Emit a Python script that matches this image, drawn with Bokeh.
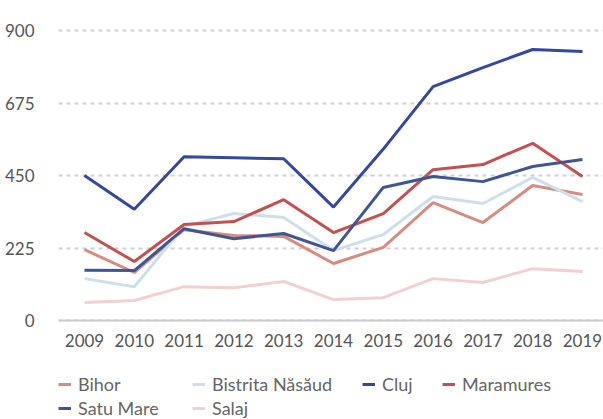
from bokeh.plotting import figure
from bokeh.models import FixedTicker, Span, Legend, LegendItem, Range1d
from bokeh.embed import file_html
from bokeh.resources import INLINE

years = [2009, 2010, 2011, 2012, 2013, 2014, 2015, 2016, 2017, 2018, 2019]
bihor = [220, 149, 282, 264, 261, 177, 227, 366, 304, 419, 391]
bistrita = [130, 105, 292, 332, 320, 217, 267, 385, 363, 444, 369]
cluj = [450, 345, 508, 505, 502, 352, 532, 726, 785, 841, 835]
maramures = [273, 183, 298, 307, 375, 273, 332, 468, 484, 550, 447]
satu_mare = [156, 155, 285, 254, 270, 217, 413, 447, 431, 478, 500]
salaj = [56, 62, 105, 102, 121, 65, 71, 130, 118, 161, 152]

names = ["Bihor", "Bistrita Năsăud", "Cluj", "Maramures", "Satu Mare", "Salaj"]
series = [bihor, bistrita, cluj, maramures, satu_mare, salaj]
colors = ["#d88c80", "#cde0ea", "#3548a0", "#c4514f", "#3f5694", "#f4cfcf"]
y_ticks = [0, 225, 450, 675, 900]

FONT = "Lato"

p = figure(width=603, height=419, output_backend="svg", toolbar_location=None,
           x_range=Range1d(2008.478, 2019.422), y_range=Range1d(-307.2, 980.7),
           min_border_left=58, min_border_right=0, min_border_top=4,
           min_border_bottom=0)
p.outline_line_color = None

p.xaxis.ticker = FixedTicker(ticks=years)
p.yaxis.ticker = FixedTicker(ticks=y_ticks)
for ax in (p.xaxis[0], p.yaxis[0]):
    ax.axis_line_color = None
    ax.major_tick_line_color = None
    ax.minor_tick_line_color = None
    ax.major_label_text_font = FONT
    ax.major_label_text_font_size = "17px"
    ax.major_label_text_color = "#555555"
p.yaxis.major_label_standoff = 18
p.xaxis.major_label_standoff = -92

p.xgrid.grid_line_color = None
p.ygrid.grid_line_color = "#d0d0d0"
p.ygrid.grid_line_width = 2
p.ygrid.grid_line_dash = "4 4"

p.add_layout(Span(location=0, dimension="width", line_color="#cccccc", line_width=2))

renderers = {}
for name, vals, col in zip(names, series, colors):
    renderers[name] = p.line(years, vals, line_color=col, line_width=3)

# legend laid out as a grid: one legend per column
columns = [(["Bihor", "Satu Mare"], 0, 0),
           (["Bistrita Năsăud", "Salaj"], 134, 0),
           (["Cluj"], 304, 24),
           (["Maramures"], 384, 24)]
for labels, lx, ly in columns:
    leg = Legend(items=[LegendItem(label=l, renderers=[renderers[l]]) for l in labels],
                 orientation="vertical", location=(lx, ly),
                 border_line_color=None, background_fill_alpha=0,
                 label_text_font=FONT, label_text_font_size="18px",
                 label_text_color="#666666",
                 glyph_width=13, glyph_height=22, label_height=22,
                 label_standoff=7, spacing=2, padding=0, margin=0)
    p.add_layout(leg)

html = file_html(p, INLINE)
open("out.html", "w").write(html)
